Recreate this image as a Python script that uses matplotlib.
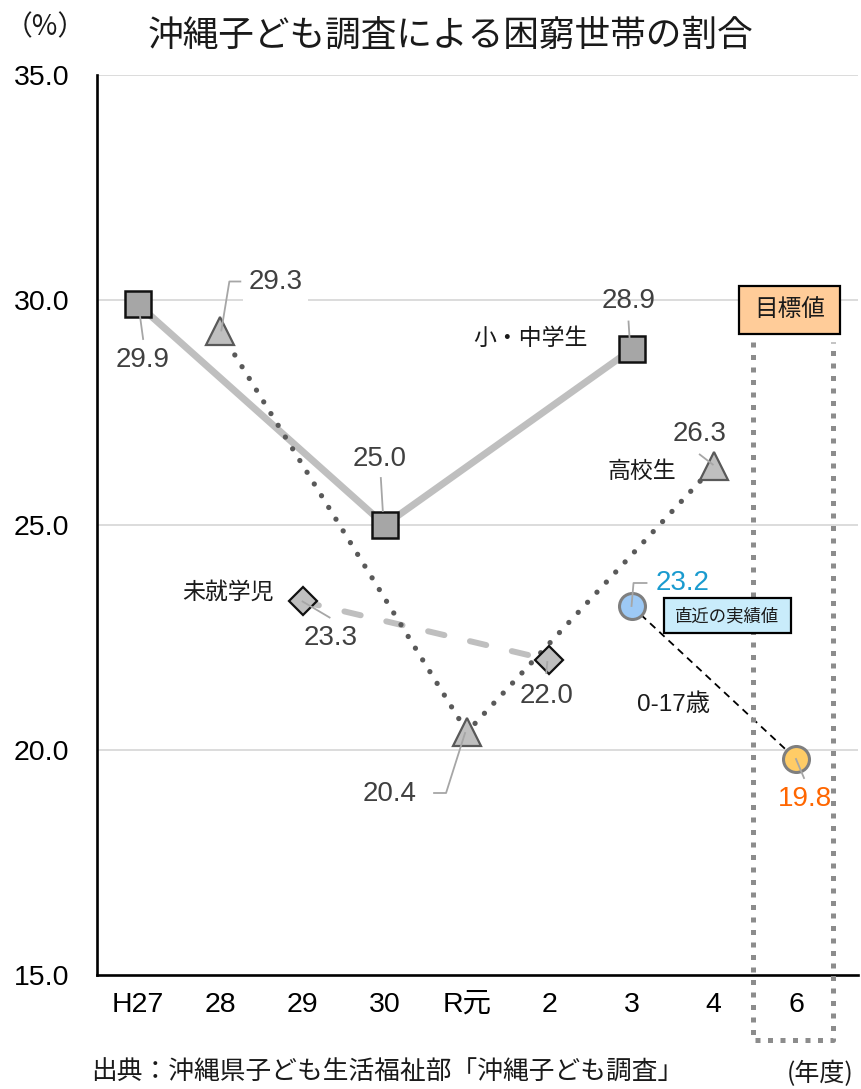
import numpy as np
import matplotlib
matplotlib.use("Agg")
import matplotlib.pyplot as plt
from matplotlib.lines import Line2D
from matplotlib.patches import Rectangle
from matplotlib.transforms import IdentityTransform

plt.rcParams['font.family'] = ['Liberation Sans', 'Noto Sans CJK JP']
JP = ['Noto Sans CJK JP', 'Liberation Sans']

# ---- data ----
categories = ['H27', '28', '29', '30', 'R元', '2', '3', '4', '6']
elem_years = ['H27', '30', '3']          # 小・中学生
elem_vals = [29.9, 25.0, 28.9]
high_years = ['28', 'R元', '4']          # 高校生
high_vals = [29.3, 20.4, 26.3]
pre_years = ['29', '2']                  # 未就学児
pre_vals = [23.3, 22.0]
all_years = ['3', '6']                   # 0-17歳 (実績 → 目標)
all_vals = [23.2, 19.8]
yticks = [15.0, 20.0, 25.0, 30.0, 35.0]

W, H = 861, 1089
fig = plt.figure(figsize=(W / 100, H / 100), dpi=100)
ax = fig.add_axes([97 / W, (H - 975) / H, (858 - 97) / W, 900 / H])
ax.set_xlim(-0.5, 8.754)
ax.set_ylim(15, 35)

def idx(years):
    return [categories.index(y) for y in years]

# grid
for yv in yticks[1:]:
    ax.axhline(yv, color='#D9D9D9', lw=1.3, zorder=0)

for s in ['top', 'right']:
    ax.spines[s].set_visible(False)
for s in ['left', 'bottom']:
    ax.spines[s].set_linewidth(1.9)
    ax.spines[s].set_color('black')

ax.set_yticks(yticks)
ax.set_yticklabels([f'{v:.1f}' for v in yticks], fontsize=20.5)
ax.set_xticks(range(len(categories)))
ax.set_xticklabels(categories, fontsize=20.5)
ax.tick_params(axis='y', length=0, pad=20)
ax.tick_params(axis='x', length=0, pad=12)

# series
ax.plot(idx(elem_years), elem_vals, color='#BFBFBF', lw=5, solid_capstyle='butt', zorder=2)
ax.plot(idx(elem_years), elem_vals, ls='none', marker='s', ms=18.4, mfc='#A6A6A6',
        mec='#111111', mew=1.8, zorder=5)

ax.plot(idx(high_years), high_vals, color='#595959', lw=3.8, ls=(0, (0.01, 2.6)),
        dash_capstyle='round', zorder=3)
ax.plot(idx(high_years), high_vals, ls='none', marker='^', ms=19.5, mfc='#BFBFBF',
        mec='#595959', mew=1.6, zorder=5)

ax.plot(idx(pre_years), pre_vals, color='#BFBFBF', lw=4.3, ls=(0, (2.8, 4.4)),
        dash_capstyle='round', zorder=2)
ax.plot(idx(pre_years), pre_vals, ls='none', marker='D', ms=14.5, mfc='#BFBFBF',
        mec='#111111', mew=1.6, zorder=5)

ax.plot(idx(all_years), all_vals, color='black', lw=1.3, ls=(0, (4, 3)), zorder=3)
ax.plot(idx(all_years)[:1], all_vals[:1], ls='none', marker='o', ms=18.7, mfc='#9DC9F5',
        mec='#7F7F7F', mew=2.2, zorder=5)
ax.plot(idx(all_years)[1:], all_vals[1:], ls='none', marker='o', ms=18.7, mfc='#FFCC66',
        mec='#7F7F7F', mew=2.2, zorder=5)

# target dotted frame (three sides)
tx = categories.index('6')
ax.plot([tx - 0.52, tx - 0.52, tx + 0.45, tx + 0.45], [29.07, 13.56, 13.56, 29.07],
        color='#8C8C8C', lw=3.6, ls=(0, (1, 1.5)), dash_capstyle='butt',
        clip_on=False, zorder=4)

fig.canvas.draw()

def disp(i, v, dx=0, dy=0):
    x, y = ax.transData.transform((i, v))
    return x + dx, y - dy

def leader(i, v, pts, color='#A6A6A6'):
    xs, ys = zip(*[disp(i, v, dx, dy) for dx, dy in pts])
    fig.add_artist(Line2D(xs, ys, transform=IdentityTransform(), color=color, lw=1.3, zorder=6))

def label(i, v, text, dx, dy, color='#404040', size=20, bg=False, family=None):
    x, y = disp(i, v, dx, dy)
    kw = {}
    if bg:
        kw['bbox'] = dict(boxstyle='square,pad=0.2', fc='white', ec='none')
    fig.text(x / W, y / H, text, ha='center', va='center', fontsize=size, color=color,
             family=family if family else plt.rcParams['font.family'], zorder=7, **kw)

c = categories.index
# value labels with leader lines
leader(c('H27'), 29.9, [(2, 12.5), (5, 34.5)])
label(c('H27'), 29.9, '29.9', 5, 56)
leader(c('28'), 29.3, [(1, -1), (9, -50), (20, -50)])
label(c('28'), 29.3, '29.3', 55, -49, bg=True)
leader(c('30'), 25.0, [(-4, -47), (-2, -14)])
label(c('30'), 25.0, '25.0', -5, -66)
leader(c('3'), 28.9, [(-3, -28), (-2, -12)])
label(c('3'), 28.9, '28.9', -3, -48)
leader(c('4'), 26.3, [(-14, -12), (-1, -2)])
label(c('4'), 26.3, '26.3', -14, -32)
leader(c('R元'), 20.4, [(-2, 1), (-21, 61), (-33, 61)])
label(c('R元'), 20.4, '20.4', -77, 62)
leader(c('29'), 23.3, [(0, 0), (27, 16)])
label(c('29'), 23.3, '23.3', 28, 37)
leader(c('2'), 22.0, [(-2, 2), (-3, 13)])
label(c('2'), 22.0, '22.0', -3, 36)
leader(c('3'), 23.2, [(0, 0), (2, -23), (15, -23)])
label(c('3'), 23.2, '23.2', 51, -23, color='#1A9BCF')
leader(c('6'), 19.8, [(0, 0), (8, 19)])
label(c('6'), 19.8, '19.8', 9, 40, color='#FF6600')

# series names
label(c('3'), 28.9, '小・中学生', -101, -11, color='#1A1A1A', size=16.5, family=JP)
label(c('4'), 26.3, '高校生', -72, 5, color='#1A1A1A', size=16.5, family=JP)
label(c('29'), 23.3, '未就学児', -75, -9, color='#1A1A1A', size=16.5, family=JP)
label(c('3'), 23.2, '0-17歳', 42, 99, color='#1A1A1A', size=17.5)

# boxes
def box(i, v, dx, dy, w, h, text, fc, size):
    x, y = disp(i, v, dx, dy)
    fig.add_artist(Rectangle((x - w / 2, y - h / 2), w, h, transform=IdentityTransform(),
                             fc=fc, ec='black', lw=1.6, zorder=8))
    fig.text(x / W, y / H, text, ha='center', va='center', fontsize=size, family=JP,
             color='#1A1A1A', zorder=9)

box(c('3'), 23.2, 95.5, 10, 127, 35, '直近の実績値', '#C9ECFB', 12.5)
box(c('6'), 30.0, -6.5, 10, 101, 48, '目標値', '#FFCC99', 17)

# titles and notes
fig.text(450 / W, 1 - 36 / H, '沖縄子ども調査による困窮世帯の割合', ha='center', va='center',
         fontsize=25.7, family=JP, color='#1A1A1A')
fig.text(45 / W, 1 - 27 / H, '（%）', ha='center', va='center', fontsize=20, family=JP,
         color='#1A1A1A')
fig.text(387 / W, 1 - 1060 / H, '出典：沖縄県子ども生活福祉部「沖縄子ども調査」', ha='center',
         va='top', fontsize=18.5, family=JP, color='#1A1A1A')
fig.text(820 / W, 1 - 1074 / H, '(年度)', ha='center', va='center', fontsize=18, family=JP,
         color='#1A1A1A')

fig.savefig('out.png', dpi=100)
